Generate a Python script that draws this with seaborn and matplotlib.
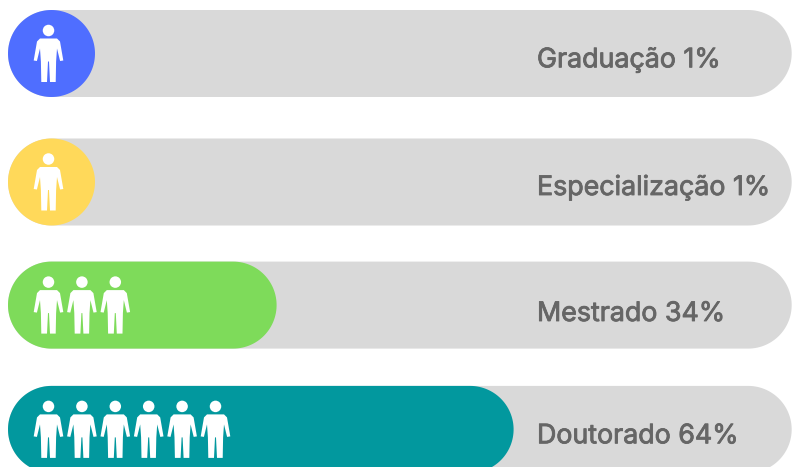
import numpy as np
import pandas as pd
import matplotlib
matplotlib.use('Agg')
import matplotlib.pyplot as plt
import matplotlib.patheffects as pe
import seaborn as sns
from matplotlib.patches import PathPatch, Ellipse, Polygon
from matplotlib.path import Path

# Data
niveis = ["Graduação", "Especialização", "Mestrado", "Doutorado"]
percentuais = [1, 1, 34, 64]
n_icones = [1, 1, 3, 6]
cores = ["#4F6EFF", "#FFD95A", "#7EDB5A", "#02989E"]
TRILHA = 99.2

# scale of the picture: pixels per percent and pixels per row
PX_X = 7.9
PX_Y = 125.3
ALTURA = 87 / PX_Y
RAIO = 43.5 / PX_X
# the rows are not evenly spaced in the original, shift in pixels
ajuste_y = [0, 3.2, 1, 0]
base_texto = [13.8, 13, 15.9, 13.9]

sns.set_theme(style="white")
plt.rcParams['font.family'] = ['Inter', 'DejaVu Sans']

df = pd.DataFrame({"nivel": niveis, "pct": percentuais, "trilha": TRILHA})

fig = plt.figure(figsize=(7.93, 4.67), dpi=100)
ax = fig.add_axes([0, 0, 1, 1])

sns.barplot(data=df, x="trilha", y="nivel", color="#D9D9D9", width=ALTURA, ax=ax, saturation=1)
sns.barplot(data=df, x="pct", y="nivel", hue="nivel", palette=cores, width=ALTURA, ax=ax,
            saturation=1, legend=False)

ax.set_xlim(-8 / PX_X, 785 / PX_X)
ax.set_ylim((467 - 53.5) / PX_Y, -53.5 / PX_Y)
ax.axis("off")


def pill(bar, cor, z, dy):
    # bars from seaborn are square, swap them for true half circle ends
    x0 = bar.get_x()
    w = max(bar.get_width(), 2 * RAIO)
    yc = bar.get_y() + bar.get_height() / 2 + dy / PX_Y
    t = np.linspace(-np.pi / 2, np.pi / 2, 60)
    dir_x = x0 + w - RAIO + RAIO * np.cos(t)
    dir_y = yc + (ALTURA / 2) * np.sin(t)
    esq_x = x0 + RAIO - RAIO * np.cos(t[::-1])
    esq_y = yc + (ALTURA / 2) * np.sin(t[::-1])
    xy = np.column_stack([np.r_[dir_x, esq_x], np.r_[dir_y, esq_y]])
    ax.add_patch(Polygon(xy, closed=True, fc=cor, ec="none", zorder=z))
    bar.set_visible(False)


barras = list(ax.patches)
for bar, dy in zip(barras[:4], ajuste_y):
    pill(bar, "#D9D9D9", 2, dy)
for bar, cor, dy in zip(barras[4:8], cores, ajuste_y):
    pill(bar, cor, 3, dy)

# person icon, in pixels around its centre
corpo = [(-8.5, -15), (8.5, -15), (11.5, -12), (14.8, 7), (11.6, 7.5), (8.5, -5), (7.6, 8),
         (7.2, 28.5), (1.5, 28.5), (0.5, 8), (-0.5, 8), (-1.5, 28.5), (-7.2, 28.5), (-7.6, 8),
         (-8.5, -5), (-11.6, 7.5), (-14.8, 7), (-11.5, -12), (-8.5, -15)]


def pessoa(x0, yc):
    xy = [(x0 + a / PX_X, yc + b / PX_Y) for a, b in corpo]
    ax.add_patch(PathPatch(Path(xy, closed=True), fc="white", ec="none", zorder=4))
    ax.add_patch(Ellipse((x0, yc - 23 / PX_Y), 11.5 / PX_X, 11.5 / PX_Y, fc="white", ec="none", zorder=4))


for linha, n in enumerate(n_icones):
    for k in range(n):
        pessoa((40.5 + k * 33.4) / PX_X, linha + ajuste_y[linha] / PX_Y)

for linha, (nome, pct) in enumerate(zip(niveis, percentuais)):
    ax.text(529 / PX_X, linha + (ajuste_y[linha] + base_texto[linha]) / PX_Y, f"{nome} {pct}%", fontsize=19.3,
            color="#666666", va="baseline", ha="left", zorder=5,
            path_effects=[pe.withStroke(linewidth=0.6, foreground="#666666")])

plt.savefig("out.png", dpi=100)
plt.close()
